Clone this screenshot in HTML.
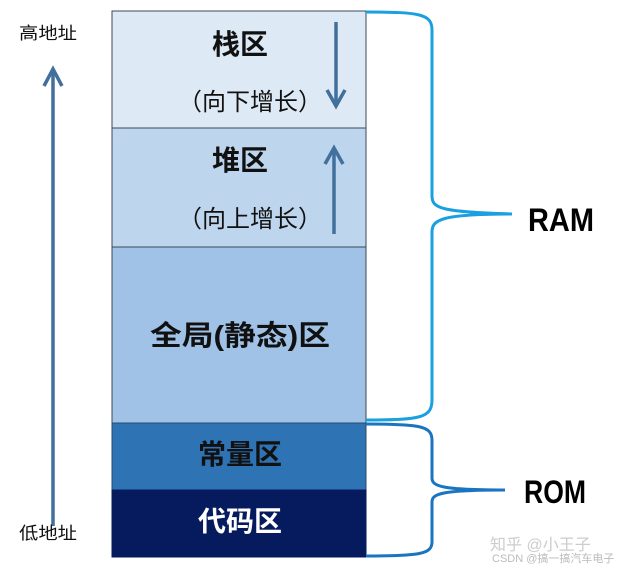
<!DOCTYPE html>
<html><head><meta charset="utf-8"><style>
body{margin:0;background:#fff;width:631px;height:567px;overflow:hidden}
text{font-family:"Liberation Sans","Noto Sans CJK SC",sans-serif}
</style></head><body>
<svg width="631" height="567" viewBox="0 0 631 567">
<rect x="112" y="11" width="254" height="117" fill="#dde9f5" stroke="#3a4a5a" stroke-width="1"/>
<rect x="112" y="128" width="254" height="119" fill="#bdd5ed" stroke="#3a4a5a" stroke-width="1"/>
<rect x="112" y="247" width="254" height="176" fill="#9fc2e6" stroke="#3a4a5a" stroke-width="1"/>
<rect x="112" y="423" width="254" height="67" fill="#2e74b5" stroke="#2a4a6a" stroke-width="1"/>
<rect x="112" y="490" width="254" height="67" fill="#061b5e" stroke="#061b5e" stroke-width="1"/>
<g font-weight="bold" font-size="28" text-anchor="middle" fill="#111">
<text x="240" y="54">栈区</text>
<text x="240" y="170">堆区</text>
<text x="240" y="345" textLength="180" lengthAdjust="spacingAndGlyphs">全局(静态)区</text>
<text x="240" y="464">常量区</text>
<text x="240" y="531" fill="#fff">代码区</text>
</g>
<g font-size="24" text-anchor="middle" fill="#111">
<text x="250" y="110">（向下增长）</text>
<text x="250" y="227">（向上增长）</text>
</g>
<g stroke="#41709c" stroke-width="3.5" fill="none">
<line x1="336" y1="22" x2="336" y2="104"/><polyline points="327,90 336,106 345,90"/>
<line x1="334" y1="234" x2="334" y2="150"/><polyline points="325,164 334,148 343,164"/>
<line x1="53" y1="526" x2="53" y2="72"/><polyline points="44,86 53,69 62,86"/>
</g>
<g font-size="17" fill="#111">
<text x="19" y="39" textLength="58" lengthAdjust="spacingAndGlyphs">高地址</text>
<text x="19" y="539" textLength="58" lengthAdjust="spacingAndGlyphs">低地址</text>
</g>
<g stroke="#1aa0e0" stroke-width="3" fill="none">
<path d="M366,12 C420,12 432,14 432,30 L432,196 C432,208 440,212 512,214 M432,232 C432,220 440,214 512,214 M432,232 L432,400 C432,418 420,420 366,420"/>
</g>
<g stroke="#1b74c0" stroke-width="3" fill="none">
<path d="M366,424 C420,424 432,426 432,440 L432,478 C432,486 440,490 505,490 M432,502 C432,494 440,490 505,490 M432,502 L432,542 C432,554 420,556 366,556"/>
</g>
<g font-weight="bold" font-size="32" fill="#000">
<text x="528" y="231" textLength="66" lengthAdjust="spacingAndGlyphs">RAM</text>
<text x="524" y="503" textLength="62" lengthAdjust="spacingAndGlyphs">ROM</text>
</g>
<text x="490" y="550" font-size="16" fill="#ccc">知乎 @小王子</text>
<text x="492" y="562" font-size="11" fill="#bbb">CSDN @搞一搞汽车电子</text>
</svg>
</body></html>
